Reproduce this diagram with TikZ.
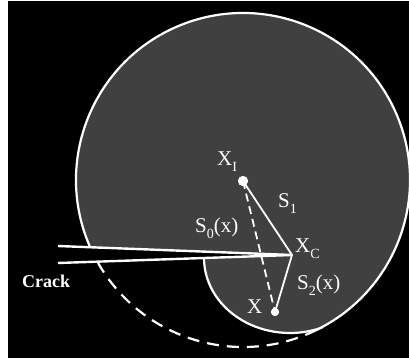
\documentclass[tikz,border=0pt]{standalone}
\usepackage{fontspec}
\setmainfont{Liberation Serif}
\newcommand\lowsub[1]{\raisebox{-0.3em}{\fontsize{14pt}{14pt}\selectfont #1}}
\begin{document}
\begin{tikzpicture}[x=1pt,y=-1pt,
  greyfill/.style={fill=black!75!white},
  outline/.style={draw=white,line width=2.2pt},
  dashedarc/.style={draw=white,line width=2.2pt,dash pattern=on 12pt off 8pt},
  cracklinestyle/.style={draw=white,line width=2.4pt},
  seg/.style={draw=white,line width=1.8pt},
  dashedseg/.style={draw=white,line width=1.8pt,dash pattern=on 8pt off 5pt},
  dot/.style={circle,fill=white,inner sep=0pt,minimum size=10pt},
  smalldot/.style={circle,fill=white,inner sep=0pt,minimum size=8pt},
  lbl/.style={text=white,font=\fontsize{21pt}{21pt}\selectfont,anchor=base west,inner sep=0pt},
  cracklbl/.style={text=white,font=\bfseries\fontsize{18pt}{18pt}\selectfont,anchor=base west,inner sep=0pt}]
\useasboundingbox (0,0) rectangle (409,358);
\fill[black] (0,0) rectangle (409,358);
\coordinate (O) at (243,180);
\coordinate (E) at (290,258);
\coordinate (cu) at (58,246);
\coordinate (cl) at (58,263);
\coordinate (tip) at (292,255);
\coordinate (junc) at (322,328);
% grey domain
\fill[greyfill] (O) circle[radius=167];
\fill[black] (cl) -- (tip) -- (junc) -- (322,358) -- (0,358) -- (0,263) -- cycle;
\begin{scope}
  \clip (O) circle[radius=167];
  \fill[greyfill] (E) ellipse[x radius=86, y radius=75];
\end{scope}
% outlines
\draw[outline] (O) ++(156.7:167) arc[start angle=156.7, end angle=424, radius=167];
\draw[dashedarc] (O) ++(64:167) arc[start angle=64, end angle=150.2, radius=167];
\draw[outline] (E) ++(180:86 and 75) arc[start angle=180, end angle=68, x radius=86, y radius=75];
% crack
\fill[black] (cu) -- (tip) -- (cl) -- cycle;
\draw[cracklinestyle,line join=miter] (cu) -- (tip) -- (cl);
% points and segments
\node[dot] (xi) at (243,181) {};
\node[smalldot] (xp) at (275,312) {};
\coordinate (xc) at (292,255);
\draw[dashedseg] (xi.center) -- (xp.center);
\draw[seg] (xi.center) -- (xc) -- (xp.center);
\node[dot] at (xi) {};
\node[smalldot] at (xp) {};
% labels
\node[lbl] (lxi) at (217,165) {X\lowsub{I}};
\node[lbl] (ls1) at (278,207) {S\lowsub{1}};
\node[lbl] (ls0) at (195,232) {S\lowsub{0}(x)};
\node[lbl] (lxc) at (295,252) {X\lowsub{C}};
\node[lbl] (ls2) at (297,289) {S\lowsub{2}(x)};
\node[lbl] (lx) at (247,313) {X};
\node[cracklbl] (lcrack) at (22,287) {Crack};
% frame strips
\fill[white] (0,0) rectangle (8,358);
\fill[white] (0,0) rectangle (409,1);
\end{tikzpicture}
\end{document}
